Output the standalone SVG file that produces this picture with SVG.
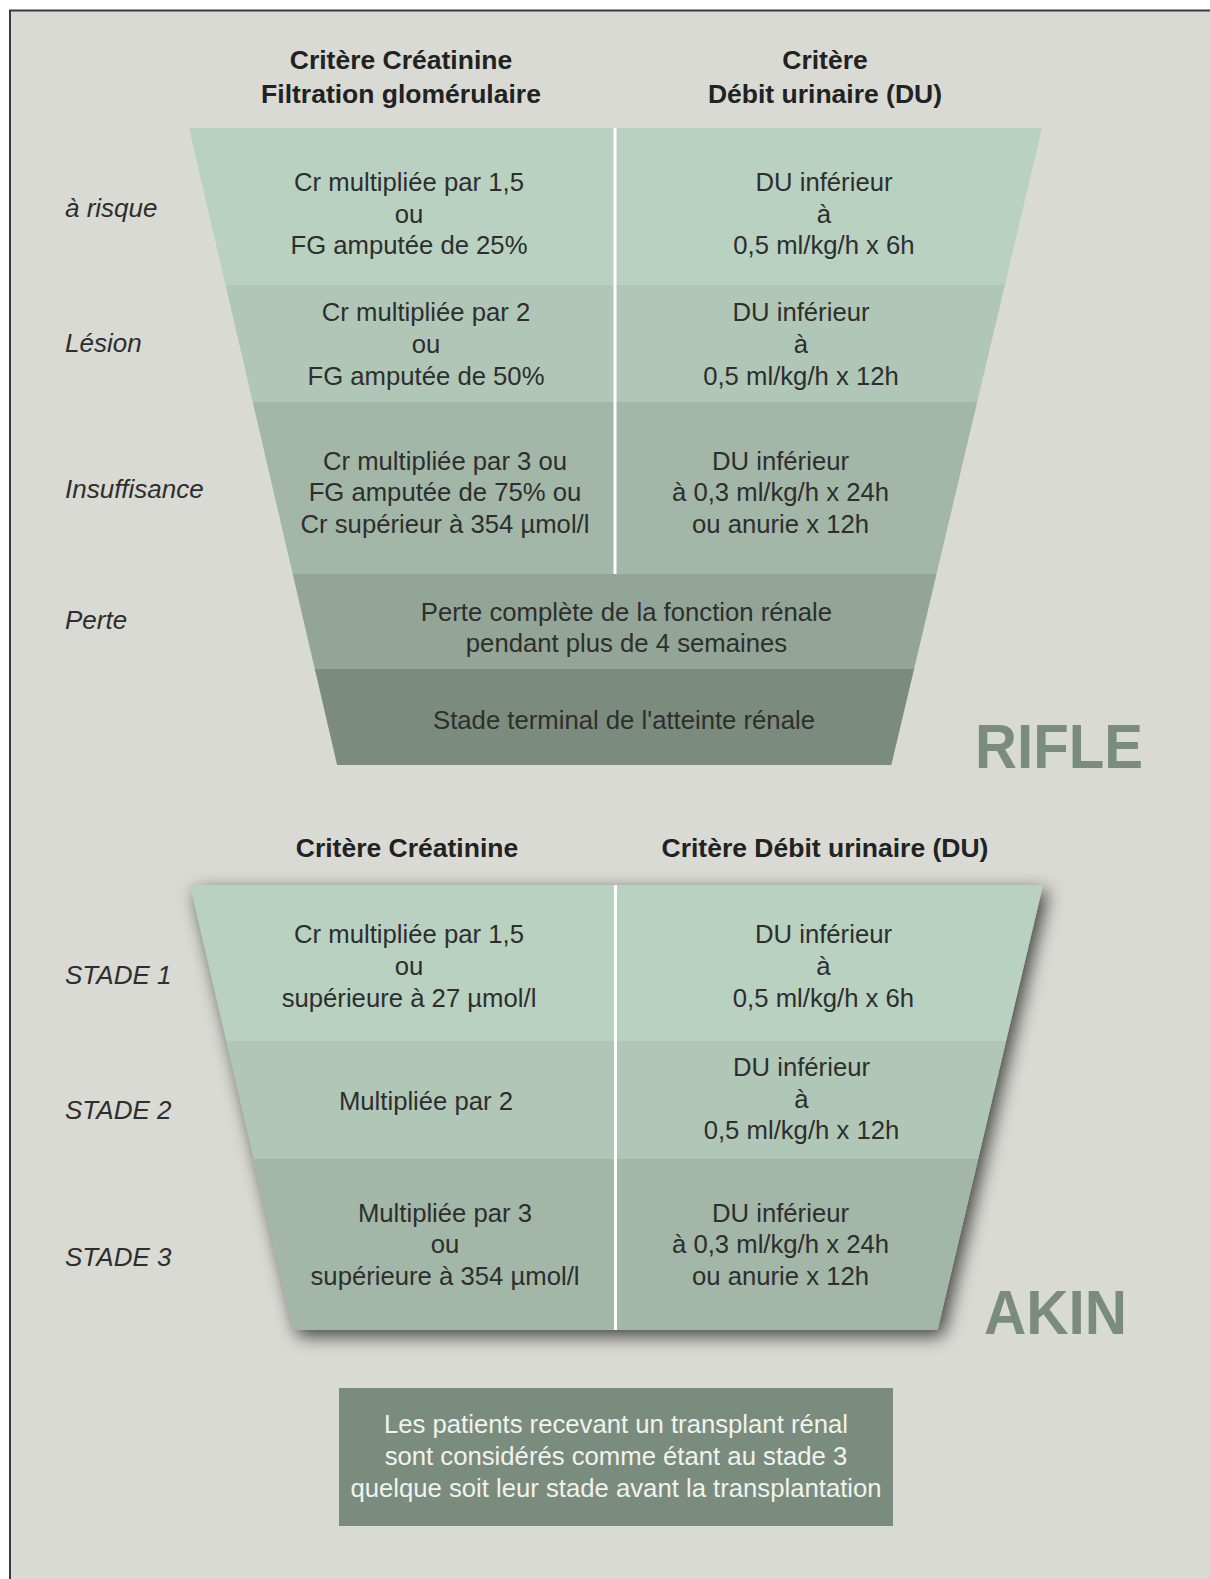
<svg xmlns="http://www.w3.org/2000/svg" width="1210" height="1579" viewBox="0 0 1210 1579">
<style>
.hd{font-family:"Liberation Sans",Arial,sans-serif;font-size:26.5px;font-weight:bold;fill:#222;text-anchor:middle}
.t{font-family:"Liberation Sans",Arial,sans-serif;font-size:25.7px;fill:#2e2e2e;text-anchor:middle}
.lb{font-family:"Liberation Sans",Arial,sans-serif;font-size:26px;font-style:italic;fill:#2e2e2e}
.big{font-family:"Liberation Sans",Arial,sans-serif;font-size:63px;font-weight:bold;fill:#7a8c7e}
.note{font-family:"Liberation Sans",Arial,sans-serif;font-size:25.7px;fill:#f2f2ee;text-anchor:middle}
.r1{fill:#b9d1c1}.r2{fill:#b0c7b7}.r3{fill:#a2b7a7}.r4{fill:#92a596}.r5{fill:#7b8c7e}
.div{stroke:#ffffff;stroke-width:3}
</style>
<defs>
<filter id="sh" x="-10%" y="-10%" width="125%" height="130%">
<feDropShadow dx="5" dy="6" stdDeviation="9" flood-color="#000" flood-opacity="0.7"/>
</filter>
</defs>
<rect x="0" y="0" width="1210" height="1579" fill="#ffffff"/>
<rect x="10" y="10" width="1200" height="1569" fill="#d9dad4"/>
<line x1="9" y1="10.5" x2="1210" y2="10.5" stroke="#3a3a3a" stroke-width="2"/>
<line x1="10" y1="10" x2="10" y2="1579" stroke="#3a3a3a" stroke-width="2"/>

<g id="rifle-headers">
<text class="hd" x="401" y="69">Critère Créatinine</text>
<text class="hd" x="401" y="103">Filtration glomérulaire</text>
<text class="hd" x="825" y="69">Critère</text>
<text class="hd" x="825" y="103">Débit urinaire (DU)</text>
</g>

<g id="rifle-labels">
<text class="lb" x="65" y="216.5">à risque</text>
<text class="lb" x="65" y="351.5">Lésion</text>
<text class="lb" x="65" y="497.5">Insuffisance</text>
<text class="lb" x="65" y="629">Perte</text>
</g>

<g id="rifle-funnel">
<g id="rifle-row1">
<polygon class="r1" points="189,128 1042,128 1004.9,285 225.5,285"/>
<text class="t" x="409" y="191">Cr multipliée par 1,5</text>
<text class="t" x="409" y="222.5">ou</text>
<text class="t" x="409" y="254">FG amputée de 25%</text>
<text class="t" x="824" y="191">DU inférieur</text>
<text class="t" x="824" y="222.5">à</text>
<text class="t" x="824" y="254">0,5 ml/kg/h x 6h</text>
</g>
<g id="rifle-row2">
<polygon class="r2" points="225.5,285 1004.9,285 977.2,402 252.7,402"/>
<text class="t" x="426" y="321">Cr multipliée par 2</text>
<text class="t" x="426" y="353">ou</text>
<text class="t" x="426" y="385">FG amputée de 50%</text>
<text class="t" x="801" y="321">DU inférieur</text>
<text class="t" x="801" y="353">à</text>
<text class="t" x="801" y="385">0,5 ml/kg/h x 12h</text>
</g>
<g id="rifle-row3">
<polygon class="r3" points="252.7,402 977.2,402 936.5,574 292.7,574"/>
<text class="t" x="445" y="469.5">Cr multipliée par 3 ou</text>
<text class="t" x="445" y="501">FG amputée de 75% ou</text>
<text class="t" x="445" y="533">Cr supérieur à 354 µmol/l</text>
<text class="t" x="780.5" y="469.5">DU inférieur</text>
<text class="t" x="780.5" y="501">à 0,3 ml/kg/h x 24h</text>
<text class="t" x="780.5" y="533">ou anurie x 12h</text>
</g>
<g id="rifle-row4">
<polygon class="r4" points="292.7,574 936.5,574 914.1,669 314.8,669"/>
<text class="t" x="626.5" y="620.5">Perte complète de la fonction rénale</text>
<text class="t" x="626.5" y="652">pendant plus de 4 semaines</text>
</g>
<g id="rifle-row5">
<polygon class="r5" points="314.8,669 914.1,669 891.3,765 337.1,765"/>
<text class="t" x="624" y="729">Stade terminal de l'atteinte rénale</text>
</g>
</g>

<g id="rifle-title">
<text class="big" x="975" y="767.5" textLength="168" lengthAdjust="spacingAndGlyphs">RIFLE</text>
</g>

<g id="akin-headers">
<text class="hd" x="407" y="856.5">Critère Créatinine</text>
<text class="hd" x="825" y="856.5">Critère Débit urinaire (DU)</text>
</g>

<g id="akin-labels">
<text class="lb" x="65" y="984">STADE 1</text>
<text class="lb" x="65" y="1118.5">STADE 2</text>
<text class="lb" x="65" y="1265.5">STADE 3</text>
</g>

<g id="akin-funnel">
<polygon fill="#a2b7a7" points="190,885 1043,885 937.5,1330 293.8,1330" filter="url(#sh)"/>
<g id="akin-row1">
<polygon class="r1" points="190,885 1043,885 1006,1041 226.4,1041"/>
<text class="t" x="409" y="943">Cr multipliée par 1,5</text>
<text class="t" x="409" y="975">ou</text>
<text class="t" x="409" y="1007">supérieure à 27 µmol/l</text>
<text class="t" x="823.5" y="943">DU inférieur</text>
<text class="t" x="823.5" y="975">à</text>
<text class="t" x="823.5" y="1007">0,5 ml/kg/h x 6h</text>
</g>
<g id="akin-row2">
<polygon class="r2" points="226.4,1041 1006,1041 978,1159 253.9,1159"/>
<text class="t" x="426" y="1110">Multipliée par 2</text>
<text class="t" x="801.5" y="1076">DU inférieur</text>
<text class="t" x="801.5" y="1107.5">à</text>
<text class="t" x="801.5" y="1139">0,5 ml/kg/h x 12h</text>
</g>
<g id="akin-row3">
<polygon class="r3" points="253.9,1159 978,1159 937.5,1330 293.8,1330"/>
<text class="t" x="445" y="1221.5">Multipliée par 3</text>
<text class="t" x="445" y="1253">ou</text>
<text class="t" x="445" y="1285">supérieure à 354 µmol/l</text>
<text class="t" x="780.5" y="1221.5">DU inférieur</text>
<text class="t" x="780.5" y="1253">à 0,3 ml/kg/h x 24h</text>
<text class="t" x="780.5" y="1285">ou anurie x 12h</text>
</g>
</g>

<g id="akin-title">
<text class="big" x="984" y="1334" textLength="143" lengthAdjust="spacingAndGlyphs">AKIN</text>
</g>

<g id="connectors">
<line class="div" x1="615" y1="128" x2="615" y2="574"/>
<line class="div" x1="615.5" y1="885" x2="615.5" y2="1330"/>
</g>

<g id="note">
<rect x="339" y="1388" width="554" height="138" fill="#7a8c7e"/>
<text class="note" x="616" y="1433">Les patients recevant un transplant rénal</text>
<text class="note" x="616" y="1465">sont considérés comme étant au stade 3</text>
<text class="note" x="616" y="1496.5">quelque soit leur stade avant la transplantation</text>
</g>
</svg>
